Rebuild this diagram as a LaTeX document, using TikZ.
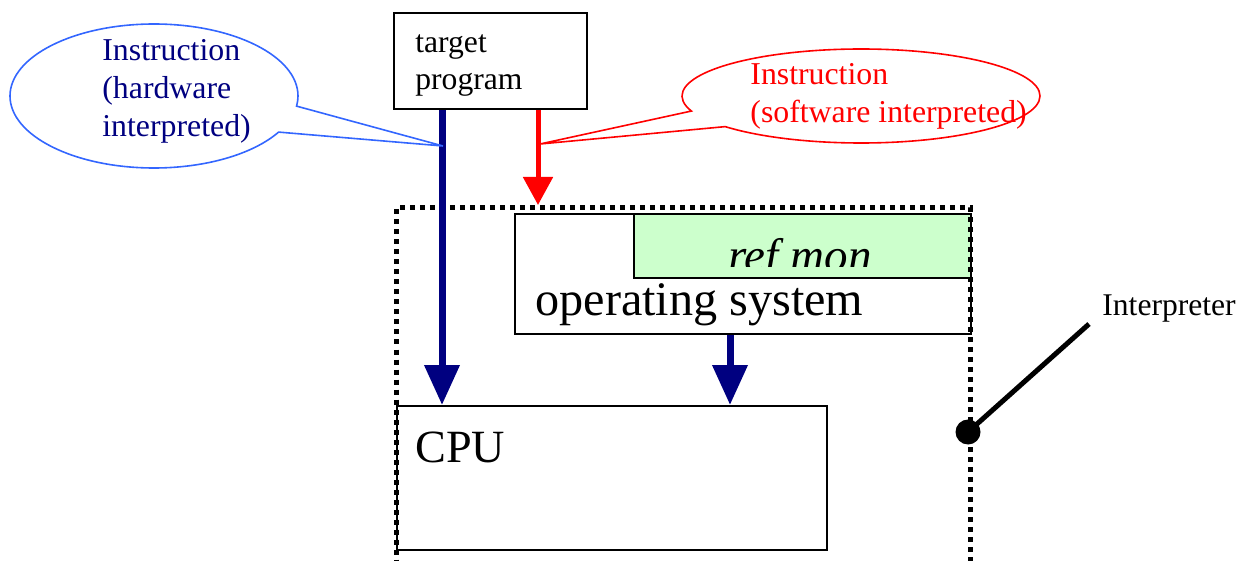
\documentclass[tikz,border=0pt]{standalone}
\usepackage{fontspec}
\setmainfont{Liberation Serif}
\usetikzlibrary{arrows.meta,shapes.callouts}
\definecolor{hwblue}{RGB}{0,0,128}
\definecolor{bubbleblue}{RGB}{51,102,255}
\definecolor{refgreen}{RGB}{204,255,204}

\begin{document}
\begin{tikzpicture}[x=0.5pt, y=-0.5pt,
    box/.style={draw=black, line width=1pt, inner sep=0pt, anchor=north west},
    txt/.style={anchor=base west, inner sep=0pt, align=left},
    hwarrow/.style={draw=hwblue, line width=3.5pt, -{Triangle[width=17pt,length=20pt]}},
    bubble/.style={ellipse callout, line width=0.8pt, inner sep=0pt, callout pointer arc=22}]
  \useasboundingbox (0,0) rectangle (1241,561);

  % target program
  \node[box, minimum width=96.5pt, minimum height=48pt] (target) at (393,12) {};
  \node[txt, font=\fontsize{15.8}{18.5}\selectfont] (targettxt) at (415,90) {target\\program};

  % operating system with ref mon
  \node[box, fill=white, minimum width=228pt, minimum height=60pt] (os) at (514,213) {};
  \node[box, fill=refgreen, minimum width=168.5pt, minimum height=32pt] (refmon) at (633,213) {};
  \begin{scope}
    \clip (633,213) rectangle (968,266);
    \node[anchor=base, inner sep=0pt, font=\itshape\fontsize{23.5}{28}\selectfont] (refmontxt) at (800,271) {ref mon};
  \end{scope}
  \node[txt, font=\fontsize{24.1}{28}\selectfont] (ostxt) at (535,315) {operating system};

  % CPU
  \node[box, minimum width=215pt, minimum height=72pt] (cpu) at (396,405) {};
  \node[txt, font=\fontsize{23.1}{28}\selectfont] (cputxt) at (415,462) {CPU};

  % interpreter frame
  \node[box, line width=2.5pt, dash pattern=on 2.5pt off 2.5pt, minimum width=287pt, minimum height=185pt] (frame) at (394,205) {};
  \node[circle, fill=black, inner sep=0pt, minimum size=12.5pt] (idot) at (968,432) {};
  \coordinate (ilead) at (1089,324);
  \draw[line width=2.5pt] (idot.center) -- (ilead);
  \node[txt, font=\fontsize{15.8}{18}\selectfont] (interp) at (1102,315) {Interpreter};

  % instruction arrows
  \coordinate (hwx) at (442,0);
  \coordinate (swx) at (538,0);
  \coordinate (osx) at (730,0);
  \draw[hwarrow] (target.south -| hwx) -- (cpu.north -| hwx);
  \draw[red, line width=2.5pt, -{Triangle[width=14.5pt,length=14pt]}] (target.south -| swx) -- (frame.north -| swx);
  \draw[hwarrow] (os.south -| osx) -- (cpu.north -| osx);

  % callouts
  \node[bubble, draw=bubbleblue, minimum width=144pt, minimum height=72pt, callout absolute pointer={(443,146)}] (hwbubble) at (154,96) {};
  \node[txt, text=hwblue, font=\fontsize{15.9}{19}\selectfont] (hwtxt) at (102,137) {Instruction\\(hardware\\interpreted)};
  \node[bubble, draw=red, minimum width=179pt, minimum height=47pt, callout absolute pointer={(540,144)}] (swbubble) at (861,96) {};
  \node[txt, text=red, font=\fontsize{15.9}{19}\selectfont] (swtxt) at (750,123) {Instruction\\(software interpreted)};
\end{tikzpicture}
\end{document}
